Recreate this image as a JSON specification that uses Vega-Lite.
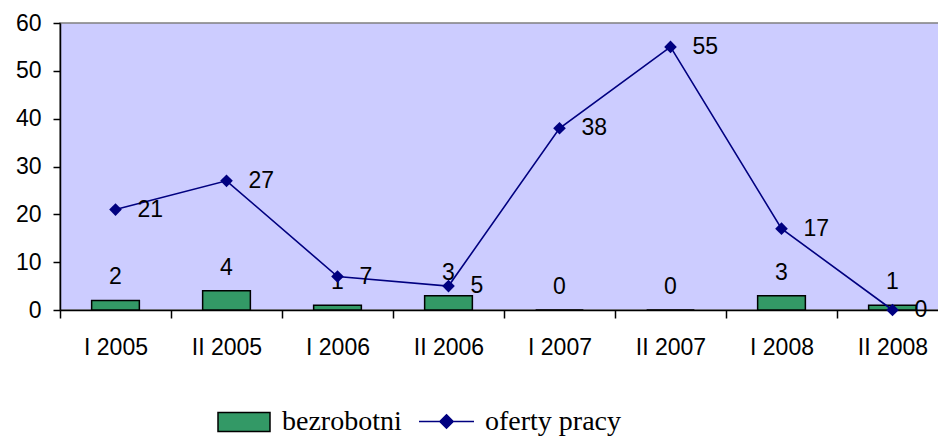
{
  "$schema": "https://vega.github.io/schema/vega-lite/v6.json",
  "width": 888,
  "height": 287,
  "autosize": {"type": "none"},
  "padding": {"left": 60, "top": 23, "right": 0, "bottom": 129},
  "background": "white",
  "config": {
    "view": {"fill": "#CCCCFF", "stroke": "#808080", "strokeWidth": 1.5},
    "font": "Liberation Sans",
    "axis": {
      "labelFont": "Liberation Sans",
      "labelFontSize": 23,
      "labelColor": "black",
      "domainColor": "black",
      "tickColor": "black",
      "grid": false,
      "title": null,
      "domainWidth": 1.5,
      "tickWidth": 1.5
    }
  },
  "data": {
    "values": [
      {"okres": "I 2005", "bezrobotni": 2, "oferty": 21},
      {"okres": "II 2005", "bezrobotni": 4, "oferty": 27},
      {"okres": "I 2006", "bezrobotni": 1, "oferty": 7},
      {"okres": "II 2006", "bezrobotni": 3, "oferty": 5},
      {"okres": "I 2007", "bezrobotni": 0, "oferty": 38},
      {"okres": "II 2007", "bezrobotni": 0, "oferty": 55},
      {"okres": "I 2008", "bezrobotni": 3, "oferty": 17},
      {"okres": "II 2008", "bezrobotni": 1, "oferty": 0}
    ]
  },
  "encoding": {
    "x": {
      "field": "okres",
      "type": "nominal",
      "sort": null,
      "scale": {"paddingInner": 0, "paddingOuter": 0},
      "axis": {"labelAngle": 0, "tickBand": "extent", "tickSize": 8, "labelPadding": 18}
    }
  },
  "layer": [
    {
      "mark": {"type": "bar", "width": {"band": 0.43}, "stroke": "black", "strokeWidth": 1.5},
      "encoding": {
        "y": {
          "field": "bezrobotni",
          "type": "quantitative",
          "scale": {"domain": [0, 60], "nice": false},
          "axis": {"values": [0, 10, 20, 30, 40, 50, 60], "tickSize": 7, "labelPadding": 12}
        },
        "fill": {
          "datum": "bezrobotni",
          "type": "nominal",
          "scale": {"range": ["#339966"]},
          "legend": {
            "orient": "none",
            "legendX": 157,
            "legendY": 372,
            "title": null,
            "padding": 0,
            "labelFont": "Liberation Serif",
            "labelFontSize": 28,
            "labelColor": "black",
            "labelOffset": 11,
            "symbolType": "M-1,-0.365H1V0.365H-1Z",
            "symbolSize": 2704,
            "symbolStrokeColor": "black",
            "symbolStrokeWidth": 1.5
          }
        }
      }
    },
    {
      "mark": {"type": "text", "align": "center", "baseline": "alphabetic", "dy": -16, "fontSize": 23, "color": "black"},
      "encoding": {
        "y": {"field": "bezrobotni", "type": "quantitative"},
        "text": {"field": "bezrobotni", "type": "quantitative"}
      }
    },
    {
      "mark": {"type": "line", "strokeWidth": 1.6},
      "encoding": {
        "y": {"field": "oferty", "type": "quantitative"},
        "stroke": {
          "datum": "oferty pracy",
          "type": "nominal",
          "scale": {"range": ["#000080"]},
          "legend": {
            "orient": "none",
            "legendX": 358,
            "legendY": 370,
            "title": null,
            "padding": 0,
            "labelFont": "Liberation Serif",
            "labelFontSize": 28,
            "labelColor": "black",
            "labelOffset": 10,
            "symbolType": "M-1,0H1M0,-0.24L0.24,0L0,0.24L-0.24,0Z",
            "symbolSize": 3025,
            "symbolStrokeWidth": 1.6,
            "symbolFillColor": "#000080"
          }
        }
      }
    },
    {
      "mark": {"type": "point", "shape": "diamond", "filled": true, "size": 160, "color": "#000080", "opacity": 1},
      "encoding": {
        "y": {"field": "oferty", "type": "quantitative"}
      }
    },
    {
      "mark": {"type": "text", "align": "left", "baseline": "middle", "dx": 22, "fontSize": 23, "color": "black"},
      "encoding": {
        "y": {"field": "oferty", "type": "quantitative"},
        "text": {"field": "oferty", "type": "quantitative"}
      }
    }
  ]
}
